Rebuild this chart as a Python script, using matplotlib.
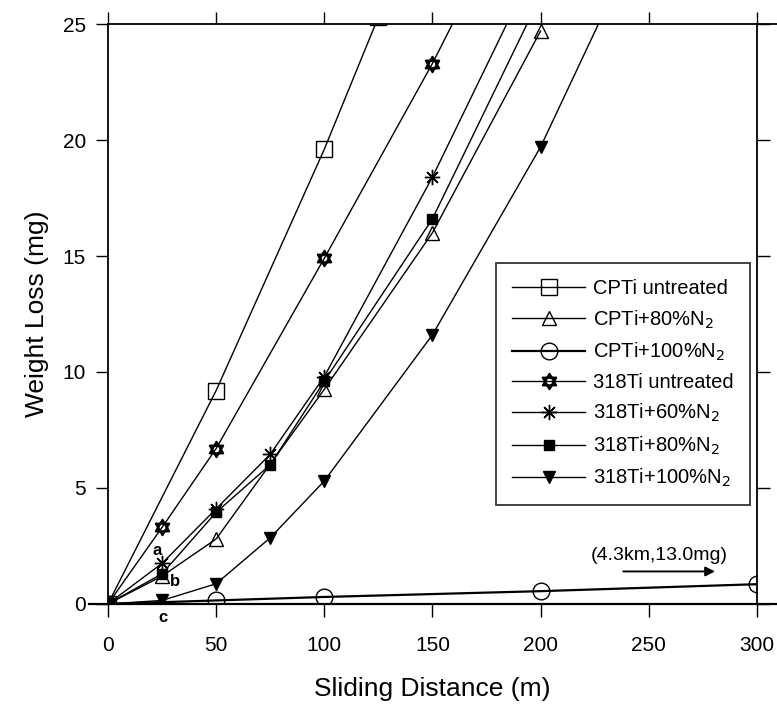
import matplotlib
matplotlib.use("Agg")
import matplotlib.pyplot as plt
from matplotlib.path import Path

plt.rcParams['font.family'] = ['Liberation Sans', 'DejaVu Sans']

# data (x = sliding distance m, y = weight loss mg)
cpti_x = [0, 50, 100, 125]
cpti_y = [0, 9.2, 19.6, 25.3]

cpti80_x = [0, 25, 50, 100, 150, 200]
cpti80_y = [0, 1.2, 2.8, 9.25, 16.0, 24.7]

cpti100_x = [0, 50, 100, 200, 300]
cpti100_y = [0, 0.15, 0.3, 0.55, 0.85]

ti318_x = [0, 25, 50, 100, 150, 200]
ti318_y = [0, 3.3, 6.7, 14.9, 23.3, 32.5]

ti60_x = [0, 25, 50, 75, 100, 150, 200]
ti60_y = [0, 1.75, 4.1, 6.45, 9.8, 18.4, 28.0]

ti80_x = [0, 25, 50, 75, 100, 150, 200]
ti80_y = [0, 1.3, 3.95, 6.0, 9.6, 16.6, 26.2]

ti100_x = [0, 25, 50, 75, 100, 150, 200, 250]
ti100_y = [0, 0.15, 0.87, 2.85, 5.3, 11.6, 19.7, 29.6]

xticks = [0, 50, 100, 150, 200, 250, 300]
yticks = [0, 5, 10, 15, 20, 25]

# star of David marker: two overlapping triangles
up = [(0, 1), (-0.866, -0.5), (0.866, -0.5), (0, 1)]
dn = [(0, -1), (-0.866, 0.5), (0.866, 0.5), (0, -1)]
codes = [Path.MOVETO, Path.LINETO, Path.LINETO, Path.CLOSEPOLY] * 2
hexagram = Path(up + dn, codes)

fig = plt.figure(figsize=(7.77, 7.08), dpi=100)
ax = fig.add_axes([0.139, 0.147, 0.835, 0.819])

lw = 1.0
ax.plot(cpti_x, cpti_y, color='black', lw=lw, marker='s', ms=11, mfc='none', mew=1.0,
        label='CPTi untreated')
ax.plot(cpti80_x, cpti80_y, color='black', lw=lw, marker='^', ms=10, mfc='none', mew=1.0,
        label='CPTi+80%N$_2$')
ax.plot(cpti100_x, cpti100_y, color='black', lw=1.6, marker='o', ms=12, mfc='none', mew=1.0,
        label='CPTi+100%N$_2$')
ax.plot(ti318_x, ti318_y, color='black', lw=lw, marker=hexagram, ms=11, mfc='none', mew=1.6,
        label='318Ti untreated')
ax.plot(ti60_x, ti60_y, color='black', lw=lw, marker=(8, 2, 0), ms=11, mew=1.0,
        label='318Ti+60%N$_2$')
ax.plot(ti80_x, ti80_y, color='black', lw=lw, marker='s', ms=7, mfc='black',
        label='318Ti+80%N$_2$')
ax.plot(ti100_x, ti100_y, color='black', lw=lw, marker='v', ms=8, mfc='black',
        label='318Ti+100%N$_2$')

ax.set_xlim(0, 300)
ax.set_ylim(0, 25)
ax.set_xticks(xticks)
ax.set_yticks(yticks)
ax.tick_params(direction='out', length=9, width=1, labelsize=15,
               top=True, right=True)
ax.tick_params(axis='x', pad=14)
ax.tick_params(axis='y', pad=7)
for s in ax.spines.values():
    s.set_linewidth(1.3)

# frame lines run on a bit past the box, as in the scan
ax.plot([-0.03, 1.05], [0, 0], transform=ax.transAxes, color='black', lw=1.6, clip_on=False)
ax.plot([1.0, 1.05], [1, 1], transform=ax.transAxes, color='black', lw=1.3, clip_on=False)

ax.set_xlabel('Sliding Distance (m)', fontsize=19, labelpad=16)
ax.set_ylabel('Weight Loss (mg)', fontsize=19, labelpad=10)

ax.text(22.5, 2.3, 'a', fontsize=12, fontweight='bold', ha='center', va='center')
ax.text(31, 0.95, 'b', fontsize=12, fontweight='bold', ha='center', va='center')
ax.text(25.5, -0.6, 'c', fontsize=12, fontweight='bold', ha='center', va='center', clip_on=False)

ax.text(255, 2.1, '(4.3km,13.0mg)', fontsize=14, ha='center', va='center')
ax.annotate('', xy=(282, 1.4), xytext=(237, 1.4),
            arrowprops=dict(arrowstyle='-|>', color='black', lw=1.4, mutation_scale=14))

leg = ax.legend(loc='lower right', bbox_to_anchor=(0.989, 0.17), borderaxespad=0,
                fontsize=14.5, frameon=True, fancybox=False, edgecolor='black',
                handlelength=3.6, labelspacing=0.5, borderpad=0.8, handletextpad=0.4)
leg.get_frame().set_linewidth(1.3)

fig.savefig('out.png', dpi=100)
